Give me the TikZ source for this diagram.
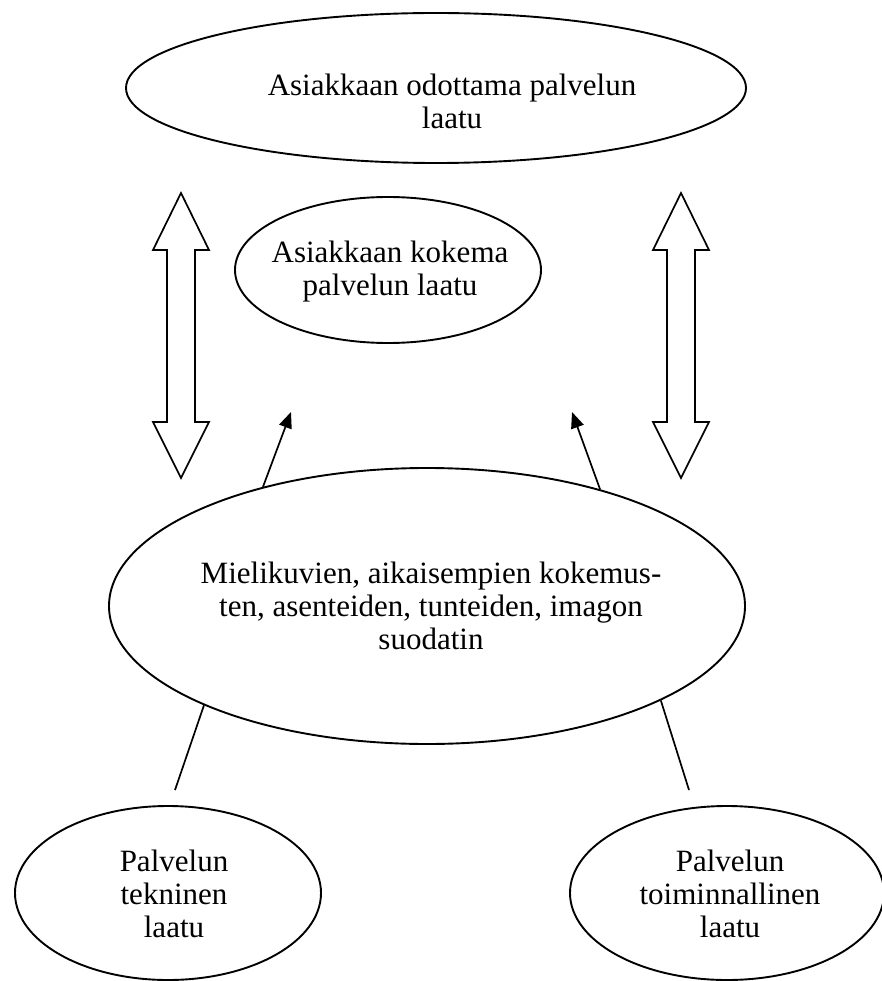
\documentclass[tikz,border=0pt]{standalone}
\usepackage{fontspec}
\setmainfont{Liberation Serif}
\usetikzlibrary{shapes.geometric,arrows.meta}
\tikzset{
  oval/.style={ellipse,draw,line width=1.9pt,inner sep=0pt},
  txt/.style={align=center,inner sep=0pt,font=\fontsize{31}{33}\selectfont},
  link/.style={line width=1.7pt},
  arrowlink/.style={line width=1.7pt,-{Triangle[length=16pt,width=13pt]}},
  dbl/.style={line width=1.7pt,line join=miter}
}
\begin{document}
\begin{tikzpicture}[x=1pt,y=-1pt]
\useasboundingbox (0,0) rectangle (882,981);
\clip (0,0) rectangle (882,981);
% ellipses
\node[oval,minimum width=620pt,minimum height=150pt] (top) at (436,88) {};
\node[oval,minimum width=306pt,minimum height=146pt] (mid) at (388,270) {};
\node[oval,minimum width=636pt,minimum height=276pt] (big) at (427,606) {};
\node[oval,minimum width=306pt,minimum height=174pt] (bl) at (168,893) {};
\node[oval,minimum width=314pt,minimum height=174pt] (br) at (727,893) {};
% texts
\node[txt] (toptxt) at (452,101) {Asiakkaan odottama palvelun\\laatu};
\node[txt] (midtxt) at (390,272) {Asiakkaan kokema\\palvelun laatu};
\node[txt] (bigtxt) at (431,606) {Mielikuvien, aikaisempien kokemus-\\ten, asenteiden, tunteiden, imagon\\suodatin};
\node[txt] (bltxt) at (174,894) {Palvelun\\tekninen\\laatu};
\node[txt] (brtxt) at (730,894) {Palvelun\\toiminnallinen\\laatu};
% double arrows
\foreach \c in {181,681}{
  \draw[dbl] (\c,193) -- (\c+28,250) -- (\c+14,250) -- (\c+14,422) -- (\c+28,422)
    -- (\c,478) -- (\c-28,422) -- (\c-14,422) -- (\c-14,250) -- (\c-28,250) -- cycle;
}
% connectors
\coordinate (tl) at (291,412);
\coordinate (tr) at (572,412);
\coordinate (el) at (175,790);
\coordinate (er) at (689,790);
\draw[arrowlink] (big.144.3) -- (tl);
\draw[arrowlink] (big.34.2) -- (tr);
\draw[link] (big.204) -- (el);
\draw[link] (big.-22.8) -- (er);
\end{tikzpicture}
\end{document}
